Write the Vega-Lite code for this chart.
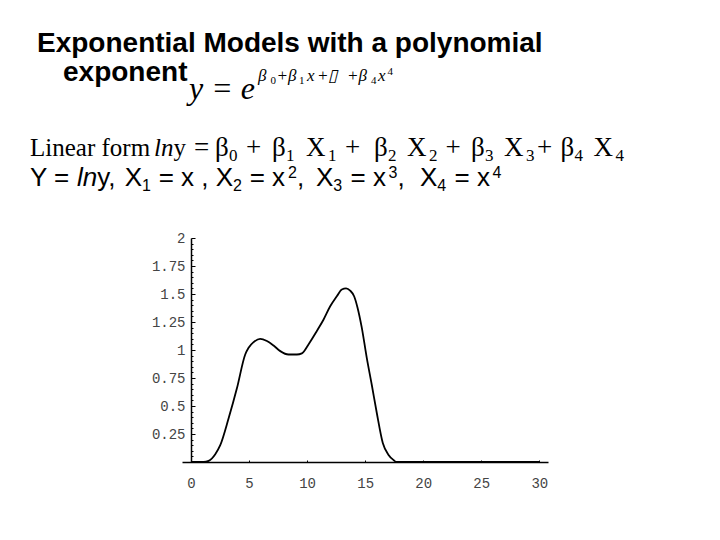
{
  "$schema": "https://vega.github.io/schema/vega-lite/v6.json",
  "autosize": {"type": "none"},
  "width": 366,
  "height": 224,
  "padding": {"left": 182, "top": 238, "right": 172, "bottom": 78},
  "background": "white",
  "config": {
    "view": {"stroke": null},
    "axis": {"grid": false},
    "style": {
      "h": {"align": "left", "baseline": "alphabetic", "font": "Liberation Sans", "fontWeight": "bold", "fontSize": 28, "fill": "black"},
      "eq": {"align": "left", "baseline": "alphabetic", "font": "Liberation Serif", "fontStyle": "italic", "fontSize": 32, "fill": "black"},
      "sp": {"align": "left", "baseline": "alphabetic", "font": "Liberation Serif", "fontStyle": "italic", "fontSize": 17, "fill": "black"},
      "sps": {"align": "left", "baseline": "alphabetic", "font": "Liberation Serif", "fontSize": 11, "fill": "black"},
      "l3": {"align": "left", "baseline": "alphabetic", "font": "Liberation Serif", "fontSize": 25, "fill": "black"},
      "l3i": {"align": "left", "baseline": "alphabetic", "font": "Liberation Serif", "fontStyle": "italic", "fontSize": 25, "fill": "black"},
      "l3f": {"align": "left", "baseline": "alphabetic", "font": "Liberation Serif", "fontSize": 27, "fill": "black"},
      "l3s": {"align": "left", "baseline": "alphabetic", "font": "Liberation Serif", "fontSize": 17, "fill": "black"},
      "l4": {"align": "left", "baseline": "alphabetic", "font": "Liberation Sans", "fontSize": 26, "fill": "black"},
      "l4i": {"align": "left", "baseline": "alphabetic", "font": "Liberation Sans", "fontStyle": "italic", "fontSize": 26, "fill": "black"},
      "l4s": {"align": "left", "baseline": "alphabetic", "font": "Liberation Sans", "fontSize": 16, "fill": "black"}
    }
  },
  "resolve": {"axis": {"y": "independent"}},
  "layer": [
    {
      "data": {"name": "curve", "values": [
        {"x": 0, "y": 0}, {"x": 1.09, "y": 0}, {"x": 1.52, "y": 0.01}, {"x": 2.09, "y": 0.07},
        {"x": 2.52, "y": 0.15}, {"x": 3.24, "y": 0.39}, {"x": 3.96, "y": 0.66}, {"x": 4.67, "y": 0.96},
        {"x": 4.96, "y": 1.02}, {"x": 5.39, "y": 1.07}, {"x": 5.96, "y": 1.1}, {"x": 6.54, "y": 1.08},
        {"x": 7.11, "y": 1.04}, {"x": 7.69, "y": 0.99}, {"x": 8.4, "y": 0.96}, {"x": 9.12, "y": 0.96},
        {"x": 9.55, "y": 0.97}, {"x": 10.12, "y": 1.05}, {"x": 10.84, "y": 1.17}, {"x": 11.41, "y": 1.27},
        {"x": 11.99, "y": 1.39}, {"x": 12.56, "y": 1.48}, {"x": 12.99, "y": 1.54}, {"x": 13.36, "y": 1.55},
        {"x": 13.71, "y": 1.53}, {"x": 14.05, "y": 1.48}, {"x": 14.34, "y": 1.38}, {"x": 14.71, "y": 1.2},
        {"x": 15.14, "y": 0.93}, {"x": 15.57, "y": 0.69}, {"x": 16.0, "y": 0.44}, {"x": 16.52, "y": 0.17},
        {"x": 17.0, "y": 0.065}, {"x": 17.44, "y": 0.018}, {"x": 17.72, "y": 0}, {"x": 30, "y": 0}
      ]},
      "mark": {"type": "line", "color": "black", "strokeWidth": 1.8, "interpolate": "monotone"},
      "encoding": {
        "x": {"field": "x", "type": "quantitative", "scale": {"domain": [-0.775, 30.75], "nice": false, "zero": false},
          "axis": {"title": null, "values": [0, 5, 10, 15, 20, 25, 30], "format": "d", "domain": true, "domainColor": "black", "domainWidth": 1.5,
            "tickColor": "black", "tickSize": -2, "labelPadding": 16, "labelFont": "Liberation Mono", "labelFontSize": 14, "labelColor": "#444", "labelOverlap": false}},
        "y": {"field": "y", "type": "quantitative", "scale": {"domain": [0, 2], "nice": false},
          "axis": {"title": null, "orient": "left", "values": [0.25, 0.5, 0.75, 1, 1.25, 1.5, 1.75, 2], "labelExpr": "'' + datum.value", "offset": -9, "domain": true, "domainColor": "black", "domainWidth": 1.5,
            "tickColor": "black", "tickSize": -4, "labelPadding": 10, "labelFont": "Liberation Mono", "labelFontSize": 14, "labelColor": "#444", "labelOverlap": false}}
      }
    },
    {
      "data": {"name": "curve"},
      "mark": {"type": "line", "strokeOpacity": 0},
      "encoding": {
        "x": {"field": "x", "type": "quantitative"},
        "y": {"field": "y", "type": "quantitative",
          "axis": {"title": null, "orient": "left", "offset": -9, "values": [0.05, 0.1, 0.15, 0.2, 0.3, 0.35, 0.4, 0.45, 0.55, 0.6, 0.65, 0.7, 0.8, 0.85, 0.9, 0.95, 1.05, 1.1, 1.15, 1.2, 1.3, 1.35, 1.4, 1.45, 1.55, 1.6, 1.65, 1.7, 1.8, 1.85, 1.9, 1.95],
            "labels": false, "domain": false, "tickColor": "black", "tickSize": -2}}
      }
    },
    {"data": {"values": [{"label": "Exponential Models with a polynomial"}]}, "mark": {"type": "text", "style": "h"}, "encoding": {"x": {"datum": -13.264}, "y": {"datum": 3.661, "axis": null}, "text": {"field": "label"}}},
    {"data": {"values": [{"label": "exponent"}]}, "mark": {"type": "text", "style": "h"}, "encoding": {"x": {"datum": -11.025}, "y": {"datum": 3.402, "axis": null}, "text": {"field": "label"}}},
    {"data": {"values": [{"label": "y = e"}]}, "mark": {"type": "text", "style": "eq"}, "encoding": {"x": {"datum": -0.172}, "y": {"datum": 3.241, "axis": null}, "text": {"field": "label"}}},
    {"data": {"values": [{"label": "β"}]}, "mark": {"type": "text", "style": "sp"}, "encoding": {"x": {"datum": 5.771}, "y": {"datum": 3.402, "axis": null}, "text": {"field": "label"}}},
    {"data": {"values": [{"label": "0"}]}, "mark": {"type": "text", "style": "sps"}, "encoding": {"x": {"datum": 6.848}, "y": {"datum": 3.375, "axis": null}, "text": {"field": "label"}}},
    {"data": {"values": [{"label": "+β"}]}, "mark": {"type": "text", "style": "sp"}, "encoding": {"x": {"datum": 7.364}, "y": {"datum": 3.402, "axis": null}, "text": {"field": "label"}}},
    {"data": {"values": [{"label": "1"}]}, "mark": {"type": "text", "style": "sps"}, "encoding": {"x": {"datum": 9.302}, "y": {"datum": 3.375, "axis": null}, "text": {"field": "label"}}},
    {"data": {"values": [{"label": "x"}]}, "mark": {"type": "text", "style": "sp"}, "encoding": {"x": {"datum": 9.991}, "y": {"datum": 3.402, "axis": null}, "text": {"field": "label"}}},
    {"data": {"values": [{"label": "+▯"}]}, "mark": {"type": "text", "style": "sp"}, "encoding": {"x": {"datum": 10.853}, "y": {"datum": 3.402, "axis": null}, "text": {"field": "label"}}},
    {"data": {"values": [{"label": "+β"}]}, "mark": {"type": "text", "style": "sp"}, "encoding": {"x": {"datum": 13.437}, "y": {"datum": 3.402, "axis": null}, "text": {"field": "label"}}},
    {"data": {"values": [{"label": "4"}]}, "mark": {"type": "text", "style": "sps"}, "encoding": {"x": {"datum": 15.504}, "y": {"datum": 3.375, "axis": null}, "text": {"field": "label"}}},
    {"data": {"values": [{"label": "x"}]}, "mark": {"type": "text", "style": "sp"}, "encoding": {"x": {"datum": 16.107}, "y": {"datum": 3.402, "axis": null}, "text": {"field": "label"}}},
    {"data": {"values": [{"label": "4"}]}, "mark": {"type": "text", "style": "sps"}, "encoding": {"x": {"datum": 16.925}, "y": {"datum": 3.455, "axis": null}, "text": {"field": "label"}}},

    {"data": {"values": [{"label": "Linear form"}]}, "mark": {"type": "text", "style": "l3"}, "encoding": {"x": {"datum": -13.867}, "y": {"datum": 2.732, "axis": null}, "text": {"field": "label"}}},
    {"data": {"values": [{"label": "ln"}]}, "mark": {"type": "text", "style": "l3i"}, "encoding": {"x": {"datum": -3.187}, "y": {"datum": 2.732, "axis": null}, "text": {"field": "label"}}},
    {"data": {"values": [{"label": "y"}]}, "mark": {"type": "text", "style": "l3"}, "encoding": {"x": {"datum": -1.507}, "y": {"datum": 2.732, "axis": null}, "text": {"field": "label"}}},
    {"data": {"values": [{"label": "="}]}, "mark": {"type": "text", "style": "l3f"}, "encoding": {"x": {"datum": 0.258}, "y": {"datum": 2.732, "axis": null}, "text": {"field": "label"}}},
    {"data": {"values": [{"label": "β"}]}, "mark": {"type": "text", "style": "l3f"}, "encoding": {"x": {"datum": 2.067}, "y": {"datum": 2.732, "axis": null}, "text": {"field": "label"}}},
    {"data": {"values": [{"label": "0"}]}, "mark": {"type": "text", "style": "l3s"}, "encoding": {"x": {"datum": 3.273}, "y": {"datum": 2.688, "axis": null}, "text": {"field": "label"}}},
    {"data": {"values": [{"label": "+"}]}, "mark": {"type": "text", "style": "l3f"}, "encoding": {"x": {"datum": 4.737}, "y": {"datum": 2.732, "axis": null}, "text": {"field": "label"}}},
    {"data": {"values": [{"label": "β"}]}, "mark": {"type": "text", "style": "l3f"}, "encoding": {"x": {"datum": 6.977}, "y": {"datum": 2.732, "axis": null}, "text": {"field": "label"}}},
    {"data": {"values": [{"label": "1"}]}, "mark": {"type": "text", "style": "l3s"}, "encoding": {"x": {"datum": 8.183}, "y": {"datum": 2.688, "axis": null}, "text": {"field": "label"}}},
    {"data": {"values": [{"label": "X"}]}, "mark": {"type": "text", "style": "l3f"}, "encoding": {"x": {"datum": 9.905}, "y": {"datum": 2.732, "axis": null}, "text": {"field": "label"}}},
    {"data": {"values": [{"label": "1"}]}, "mark": {"type": "text", "style": "l3s"}, "encoding": {"x": {"datum": 11.8}, "y": {"datum": 2.688, "axis": null}, "text": {"field": "label"}}},
    {"data": {"values": [{"label": "+"}]}, "mark": {"type": "text", "style": "l3f"}, "encoding": {"x": {"datum": 13.264}, "y": {"datum": 2.732, "axis": null}, "text": {"field": "label"}}},
    {"data": {"values": [{"label": "β"}]}, "mark": {"type": "text", "style": "l3f"}, "encoding": {"x": {"datum": 15.762}, "y": {"datum": 2.732, "axis": null}, "text": {"field": "label"}}},
    {"data": {"values": [{"label": "2"}]}, "mark": {"type": "text", "style": "l3s"}, "encoding": {"x": {"datum": 16.968}, "y": {"datum": 2.688, "axis": null}, "text": {"field": "label"}}},
    {"data": {"values": [{"label": "X"}]}, "mark": {"type": "text", "style": "l3f"}, "encoding": {"x": {"datum": 18.605}, "y": {"datum": 2.732, "axis": null}, "text": {"field": "label"}}},
    {"data": {"values": [{"label": "2"}]}, "mark": {"type": "text", "style": "l3s"}, "encoding": {"x": {"datum": 20.5}, "y": {"datum": 2.688, "axis": null}, "text": {"field": "label"}}},
    {"data": {"values": [{"label": "+"}]}, "mark": {"type": "text", "style": "l3f"}, "encoding": {"x": {"datum": 21.921}, "y": {"datum": 2.732, "axis": null}, "text": {"field": "label"}}},
    {"data": {"values": [{"label": "β"}]}, "mark": {"type": "text", "style": "l3f"}, "encoding": {"x": {"datum": 24.117}, "y": {"datum": 2.732, "axis": null}, "text": {"field": "label"}}},
    {"data": {"values": [{"label": "3"}]}, "mark": {"type": "text", "style": "l3s"}, "encoding": {"x": {"datum": 25.323}, "y": {"datum": 2.688, "axis": null}, "text": {"field": "label"}}},
    {"data": {"values": [{"label": "X"}]}, "mark": {"type": "text", "style": "l3f"}, "encoding": {"x": {"datum": 26.96}, "y": {"datum": 2.732, "axis": null}, "text": {"field": "label"}}},
    {"data": {"values": [{"label": "3"}]}, "mark": {"type": "text", "style": "l3s"}, "encoding": {"x": {"datum": 28.85}, "y": {"datum": 2.688, "axis": null}, "text": {"field": "label"}}},
    {"data": {"values": [{"label": "+"}]}, "mark": {"type": "text", "style": "l3f"}, "encoding": {"x": {"datum": 29.8}, "y": {"datum": 2.732, "axis": null}, "text": {"field": "label"}}},
    {"data": {"values": [{"label": "β"}]}, "mark": {"type": "text", "style": "l3f"}, "encoding": {"x": {"datum": 31.826}, "y": {"datum": 2.732, "axis": null}, "text": {"field": "label"}}},
    {"data": {"values": [{"label": "4"}]}, "mark": {"type": "text", "style": "l3s"}, "encoding": {"x": {"datum": 33.032}, "y": {"datum": 2.688, "axis": null}, "text": {"field": "label"}}},
    {"data": {"values": [{"label": "X"}]}, "mark": {"type": "text", "style": "l3f"}, "encoding": {"x": {"datum": 34.668}, "y": {"datum": 2.732, "axis": null}, "text": {"field": "label"}}},
    {"data": {"values": [{"label": "4"}]}, "mark": {"type": "text", "style": "l3s"}, "encoding": {"x": {"datum": 36.56}, "y": {"datum": 2.688, "axis": null}, "text": {"field": "label"}}},

    {"data": {"values": [{"label": "Y ="}]}, "mark": {"type": "text", "style": "l4"}, "encoding": {"x": {"datum": -13.867}, "y": {"datum": 2.464, "axis": null}, "text": {"field": "label"}}},
    {"data": {"values": [{"label": "ln"}]}, "mark": {"type": "text", "style": "l4i"}, "encoding": {"x": {"datum": -9.819}, "y": {"datum": 2.464, "axis": null}, "text": {"field": "label"}}},
    {"data": {"values": [{"label": "y,"}]}, "mark": {"type": "text", "style": "l4"}, "encoding": {"x": {"datum": -8.071}, "y": {"datum": 2.464, "axis": null}, "text": {"field": "label"}}},
    {"data": {"values": [{"label": "X"}]}, "mark": {"type": "text", "style": "l4"}, "encoding": {"x": {"datum": -5.711}, "y": {"datum": 2.464, "axis": null}, "text": {"field": "label"}}},
    {"data": {"values": [{"label": "1"}]}, "mark": {"type": "text", "style": "l4s"}, "encoding": {"x": {"datum": -4.22}, "y": {"datum": 2.42, "axis": null}, "text": {"field": "label"}}},
    {"data": {"values": [{"label": "= x ,"}]}, "mark": {"type": "text", "style": "l4"}, "encoding": {"x": {"datum": -2.782}, "y": {"datum": 2.464, "axis": null}, "text": {"field": "label"}}},
    {"data": {"values": [{"label": "X"}]}, "mark": {"type": "text", "style": "l4"}, "encoding": {"x": {"datum": 2.127}, "y": {"datum": 2.464, "axis": null}, "text": {"field": "label"}}},
    {"data": {"values": [{"label": "2"}]}, "mark": {"type": "text", "style": "l4s"}, "encoding": {"x": {"datum": 3.618}, "y": {"datum": 2.42, "axis": null}, "text": {"field": "label"}}},
    {"data": {"values": [{"label": "= x"}]}, "mark": {"type": "text", "style": "l4"}, "encoding": {"x": {"datum": 5.056}, "y": {"datum": 2.464, "axis": null}, "text": {"field": "label"}}},
    {"data": {"values": [{"label": "2"}]}, "mark": {"type": "text", "style": "l4s"}, "encoding": {"x": {"datum": 8.355}, "y": {"datum": 2.536, "axis": null}, "text": {"field": "label"}}},
    {"data": {"values": [{"label": ","}]}, "mark": {"type": "text", "style": "l4"}, "encoding": {"x": {"datum": 9.13}, "y": {"datum": 2.464, "axis": null}, "text": {"field": "label"}}},
    {"data": {"values": [{"label": "X"}]}, "mark": {"type": "text", "style": "l4"}, "encoding": {"x": {"datum": 10.766}, "y": {"datum": 2.464, "axis": null}, "text": {"field": "label"}}},
    {"data": {"values": [{"label": "3"}]}, "mark": {"type": "text", "style": "l4s"}, "encoding": {"x": {"datum": 12.256}, "y": {"datum": 2.42, "axis": null}, "text": {"field": "label"}}},
    {"data": {"values": [{"label": "= x"}]}, "mark": {"type": "text", "style": "l4"}, "encoding": {"x": {"datum": 13.738}, "y": {"datum": 2.464, "axis": null}, "text": {"field": "label"}}},
    {"data": {"values": [{"label": "3"}]}, "mark": {"type": "text", "style": "l4s"}, "encoding": {"x": {"datum": 17.011}, "y": {"datum": 2.536, "axis": null}, "text": {"field": "label"}}},
    {"data": {"values": [{"label": ","}]}, "mark": {"type": "text", "style": "l4"}, "encoding": {"x": {"datum": 17.786}, "y": {"datum": 2.464, "axis": null}, "text": {"field": "label"}}},
    {"data": {"values": [{"label": "X"}]}, "mark": {"type": "text", "style": "l4"}, "encoding": {"x": {"datum": 19.724}, "y": {"datum": 2.464, "axis": null}, "text": {"field": "label"}}},
    {"data": {"values": [{"label": "4"}]}, "mark": {"type": "text", "style": "l4s"}, "encoding": {"x": {"datum": 21.214}, "y": {"datum": 2.42, "axis": null}, "text": {"field": "label"}}},
    {"data": {"values": [{"label": "= x"}]}, "mark": {"type": "text", "style": "l4"}, "encoding": {"x": {"datum": 22.696}, "y": {"datum": 2.464, "axis": null}, "text": {"field": "label"}}},
    {"data": {"values": [{"label": "4"}]}, "mark": {"type": "text", "style": "l4s"}, "encoding": {"x": {"datum": 25.969}, "y": {"datum": 2.536, "axis": null}, "text": {"field": "label"}}}
  ]
}
